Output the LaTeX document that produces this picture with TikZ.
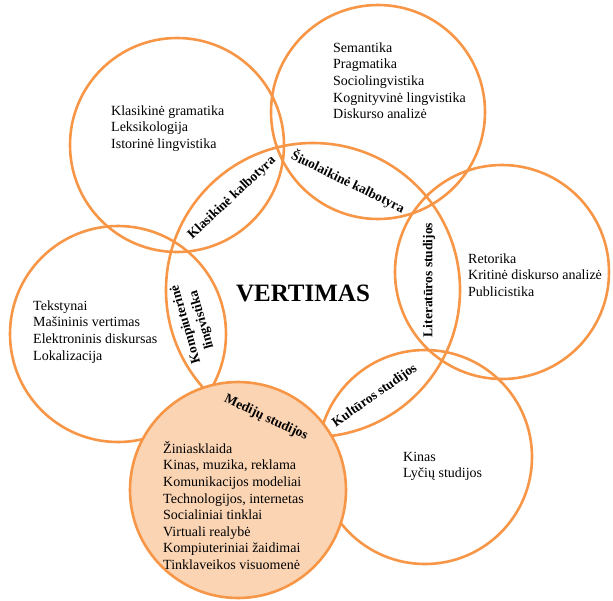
\documentclass[tikz,border=0pt]{standalone}
\usepackage{fontspec}
\setmainfont{Liberation Serif}
\definecolor{ringc}{HTML}{F79646}
\definecolor{peach}{HTML}{FBD4B4}
\newcommand\itemfont{\fontsize{14}{16.6}\selectfont}
\newcommand\lensfont{\fontsize{13.5}{16.6}\selectfont\bfseries}
\newcommand\firststrut{\rule{0pt}{12pt}}
\begin{document}
\begin{tikzpicture}[x=1pt,y=-1pt,
  ring/.style={circle, draw=ringc, line width=2.6pt, inner sep=0pt},
  items/.style={anchor=north west, inner sep=0pt, align=left, font=\itemfont},
  lens/.style={inner sep=0pt, font=\lensfont}]
\useasboundingbox (0,0) rectangle (613,600);
% outer circles
\node[ring, minimum size=214pt] (c1) at (177,145) {};
\node[ring, minimum size=214pt] (c2) at (378,112) {};
\node[ring, minimum size=214pt] (c3) at (502,272) {};
\node[ring, minimum size=214pt] (c4) at (425,457) {};
\node[ring, minimum size=216pt] (c6) at (118,334) {};
% central circle
\node[ring, minimum size=294pt] (cc) at (313,290) {};
% filled media circle
\node[ring, fill=peach, minimum size=216pt] (c5) at (238,490) {};
% lists
\node[items] (t1) at (111,103) {\firststrut Klasikinė gramatika\\Leksikologija\\Istorinė lingvistika};
\node[items] (t2) at (333,40) {\firststrut Semantika\\Pragmatika\\Sociolingvistika\\Kognityvinė lingvistika\\Diskurso analizė};
\node[items] (t3) at (468,251) {\firststrut Retorika\\Kritinė diskurso analizė\\Publicistika};
\node[items] (t6) at (33,298) {\firststrut Tekstynai\\Mašininis vertimas\\Elektroninis diskursas\\Lokalizacija};
\node[items] (t5) at (163,441) {\firststrut Žiniasklaida\\Kinas, muzika, reklama\\Komunikacijos modeliai\\Technologijos, internetas\\Socialiniai tinklai\\Virtuali realybė\\Kompiuteriniai žaidimai\\Tinklaveikos visuomenė};
\node[items] (t4) at (403,449) {\firststrut Kinas\\Lyčių studijos};
% lens labels
\node[lens, rotate=43] (l1) at (232,198) {Klasikinė kalbotyra};
\node[lens, rotate=-26] (l2) at (348,182) {Šiuolaikinė kalbotyra};
\node[lens, rotate=90] (l3) at (429,280) {Literatūros studijos};
\node[lens, rotate=35] (l4) at (375,396) {Kultūros studijos};
\node[lens, rotate=106, align=center] (l6) at (194,322) {Kompiuterinė\\lingvistika};
\node[lens, rotate=-25] (l5) at (266,418) {Medijų studijos};
% title
\node[inner sep=0pt, font=\fontsize{25}{30}\selectfont\bfseries] (title) at (303,293) {VERTIMAS};
\end{tikzpicture}
\end{document}
